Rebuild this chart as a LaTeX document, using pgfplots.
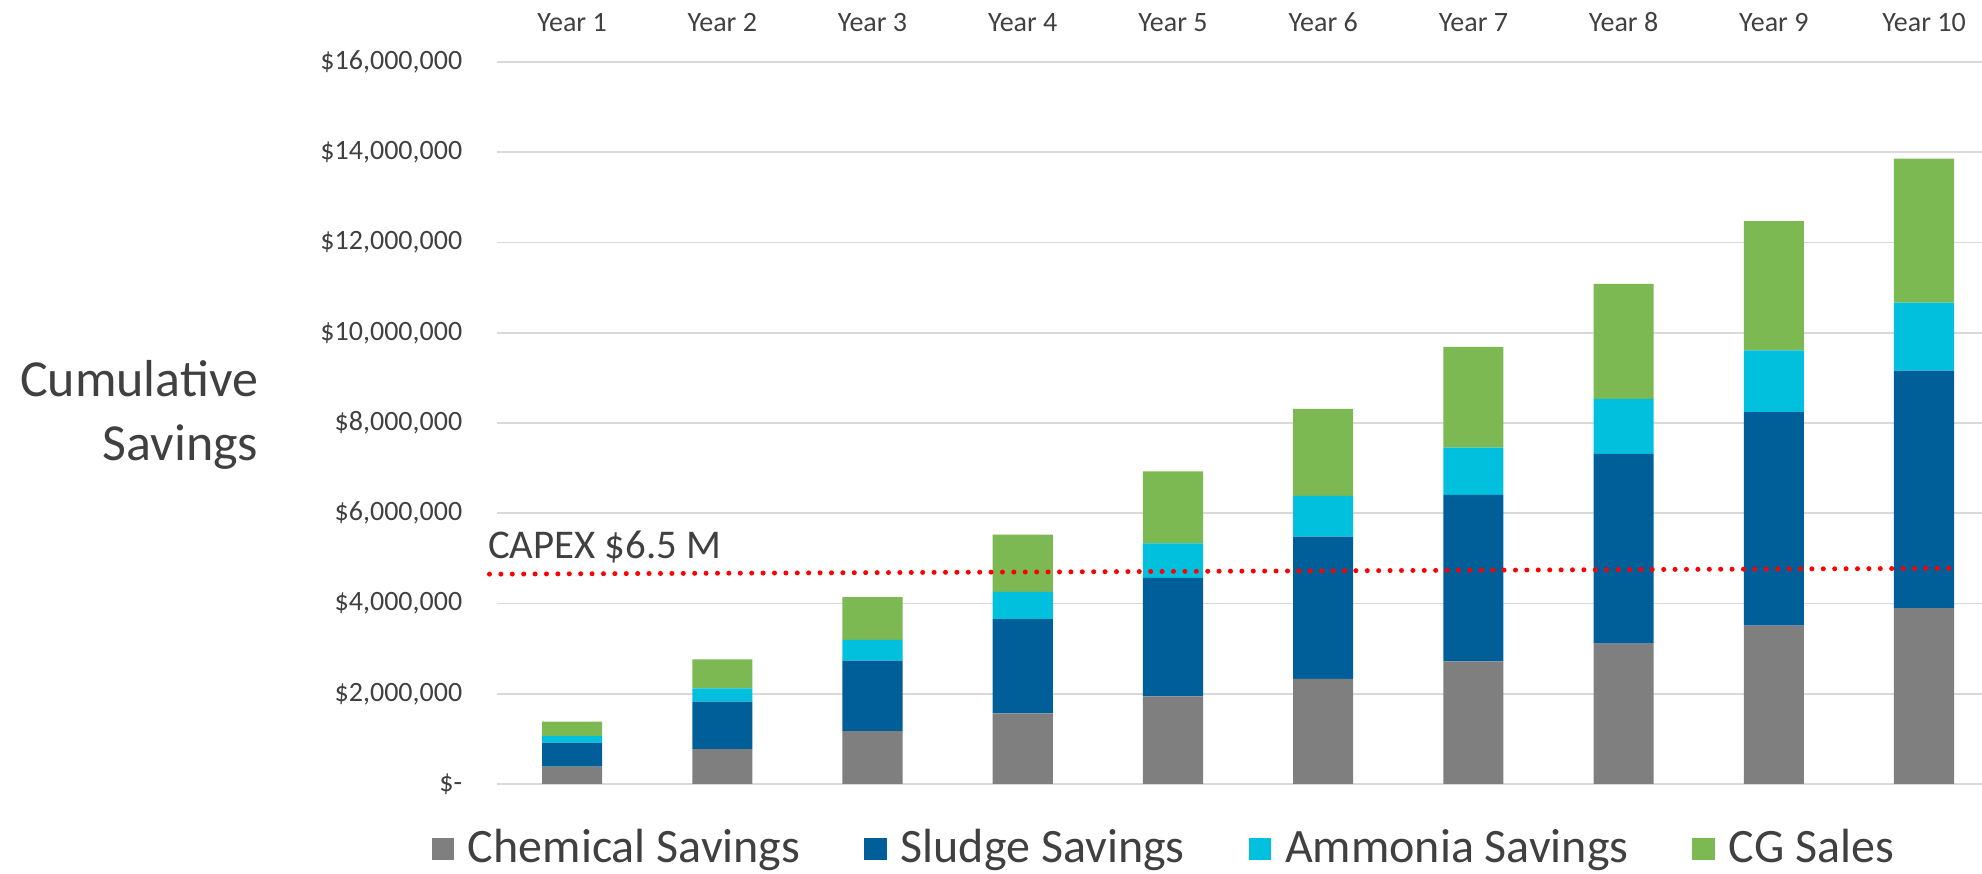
\documentclass[border=0pt]{standalone}
\usepackage{fontspec}
\setmainfont{Carlito}
\usepackage{pgfplots}
\pgfplotsset{compat=1.18}
\usetikzlibrary{calc}

\definecolor{chem}{HTML}{7F7F7F}
\definecolor{sludge}{HTML}{005F98}
\definecolor{ammo}{HTML}{00C0DE}
\definecolor{cgsales}{HTML}{7DB952}
\definecolor{txt}{HTML}{404040}
\definecolor{gridc}{HTML}{D9D9D9}

\begin{document}
\begin{tikzpicture}
\begin{axis}[
  name=main,
  scale only axis, width=371.25pt, height=180.5pt,
  ybar stacked, bar width=0.4,
  legend image code/.code={\fill[#1] (0pt,-2.8pt) rectangle (5.6pt,2.8pt);},
  xmin=0.5, xmax=10.386, ymin=0, ymax=16000000,
  xtick={1,2,3,4,5,6,7,8,9,10},
  xticklabels={Year 1,Year 2,Year 3,Year 4,Year 5,Year 6,Year 7,Year 8,Year 9,Year 10},
  xticklabel pos=upper,
  ytick={0,2000000,4000000,6000000,8000000,10000000,12000000,14000000,16000000},
  yticklabels={{\$-},{\$2,000,000},{\$4,000,000},{\$6,000,000},{\$8,000,000},
               {\$10,000,000},{\$12,000,000},{\$14,000,000},{\$16,000,000}},
  scaled y ticks=false,
  axis line style={draw=none}, major tick length=0pt,
  ymajorgrids, grid style={draw=gridc, line width=0.45pt},
  tick label style={font=\fontsize{7}{8}\selectfont, text=txt},
  xticklabel style={anchor=base, inner sep=0pt, yshift=7.6pt},
  yticklabel style={anchor=east, inner sep=0pt, xshift=-8.5pt},
  ylabel={Cumulative\\Savings},
  every axis y label/.style={at={(rel axis cs:0,0.5)}, anchor=east,
    align=right, inner sep=0pt, xshift=-59.5pt, yshift=2pt,
    font=\fontsize{13}{15.8}\selectfont, text=txt},
  legend columns=-1,
  legend style={at={(0.451,0)}, anchor=center, yshift=-16.3pt,
    draw=none, fill=none, text=txt, font=\fontsize{12}{14}\selectfont,
    /tikz/every odd column/.append style={column sep=1.5pt},
    /tikz/every even column/.append style={column sep=14pt}},
]
\addplot[fill=chem, draw=none] coordinates {
  (1,384000) (2,775000) (3,1173000) (4,1565000) (5,1940000)
  (6,2330000) (7,2717000) (8,3113000) (9,3510000) (10,3897000)};
\addlegendentry{Chemical Savings}
\addplot[fill=sludge, draw=none] coordinates {
  (1,531000) (2,1048000) (3,1558000) (4,2088000) (5,2630000)
  (6,3153000) (7,3688000) (8,4204000) (9,4729000) (10,5264000)};
\addlegendentry{Sludge Savings}
\addplot[fill=ammo, draw=none] coordinates {
  (1,148000) (2,295000) (3,465000) (4,605000) (5,760000)
  (6,902000) (7,1051000) (8,1220000) (9,1368000) (10,1507000)};
\addlegendentry{Ammonia Savings}
\addplot[fill=cgsales, draw=none] coordinates {
  (1,317000) (2,642000) (3,944000) (4,1270000) (5,1600000)
  (6,1925000) (7,2231000) (8,2548000) (9,2866000) (10,3193000)};
\addlegendentry{CG Sales}
\end{axis}

% CAPEX line on its own axis so it is not stacked
\begin{axis}[
  at={(main.south west)}, anchor=south west,
  scale only axis, width=371.25pt, height=180.5pt,
  xmin=0.5, xmax=10.386, ymin=0, ymax=16000000,
  hide axis, clip=false,
]
\addplot[red, line width=1.25pt, line cap=round, dash pattern=on 0pt off 2.85pt]
  coordinates {(0.45,4650000) (10.22,4780000)};
\node[anchor=base west, inner sep=0pt, text=txt,
      font=\fontsize{10.2}{12}\selectfont] at (axis cs:0.435,5000000) {CAPEX \$6.5 M};
\end{axis}

\pgfresetboundingbox
\useasboundingbox ($(main.south west)+(-124.25pt,-22.5pt)$)
  rectangle ($(main.south west)+(371.25pt,196pt)$);
\end{tikzpicture}
\end{document}
